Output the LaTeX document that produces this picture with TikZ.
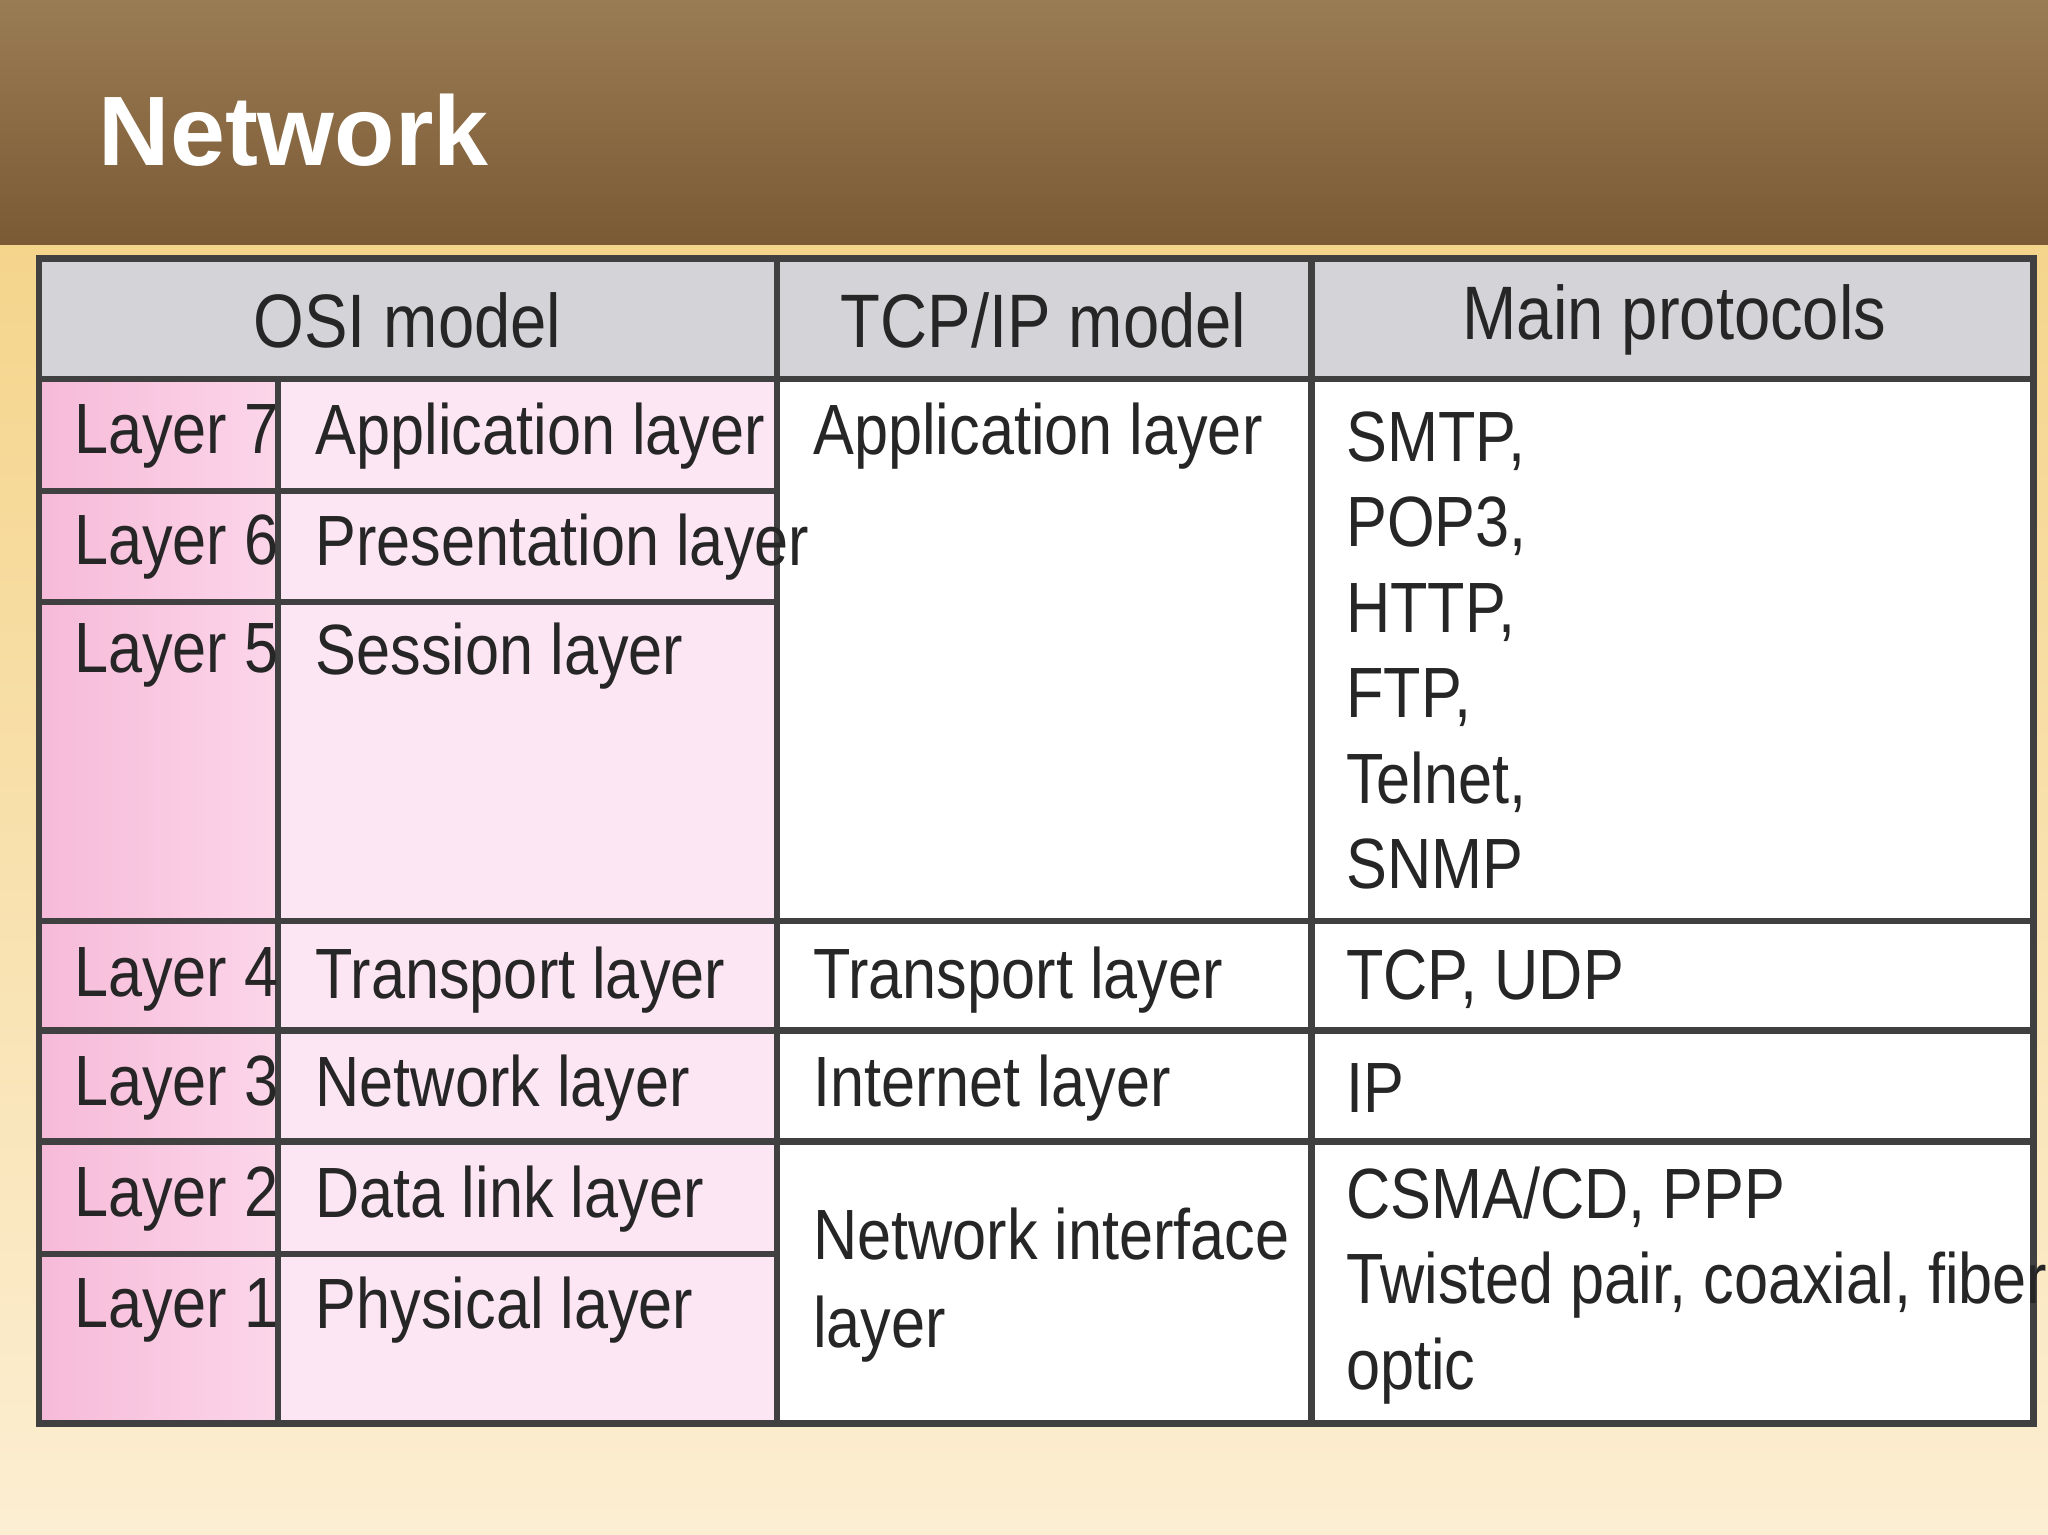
\documentclass[tikz,border=0pt]{standalone}
\usepackage{fontspec}
\setmainfont[FakeStretch=0.86]{Liberation Sans}
\newfontfamily\titlefont{Liberation Sans}
\definecolor{hdgray}{RGB}{212,212,216}
\definecolor{pinkA}{RGB}{246,186,216}
\definecolor{pinkB}{RGB}{252,214,234}
\definecolor{pinkC}{RGB}{253,230,243}
\definecolor{brownA}{RGB}{154,124,84}
\definecolor{brownB}{RGB}{122,90,53}
\definecolor{bgA}{RGB}{245,213,140}
\definecolor{bgB}{RGB}{252,238,210}
\begin{document}
\begin{tikzpicture}[x=0.01cm,y=-0.01cm,
  cell/.style={anchor=west,inner sep=0pt,font=\fontsize{15.5}{19}\selectfont,text=black!85},
  hd/.style={anchor=center,inner sep=0pt,font=\fontsize{16.5}{20}\selectfont,text=black!85},
  grid/.style={draw=black!75,line width=1.4pt}]
\useasboundingbox (0,0) rectangle (1568,1175);
\shade[top color=bgA,bottom color=bgB] (0,187) rectangle (1568,1175);
\shade[top color=brownA,bottom color=brownB] (0,0) rectangle (1568,187);
\node[anchor=west,inner sep=0pt,text=white,font=\titlefont\bfseries\fontsize{21.5}{26}\selectfont] (title) at (75,100) {Network};
% fills
\fill[white] (30,198) rectangle (1557,1092);
\fill[hdgray] (30,198) rectangle (1557,290);
\shade[left color=pinkA,right color=pinkB] (30,290) rectangle (213,1090);
\fill[pinkC] (213,290) rectangle (595,1090);
% grid
\draw[grid] (30,198) rectangle (1557,1090);
\draw[grid] (30,290) -- (1557,290);
\draw[grid] (30,376) -- (595,376);
\draw[grid] (30,461) -- (595,461);
\draw[grid] (30,705) -- (1557,705);
\draw[grid] (30,789) -- (1557,789);
\draw[grid] (30,874) -- (1557,874);
\draw[grid] (30,960) -- (595,960);
\draw[grid] (213,290) -- (213,1090);
\draw[grid] (595,198) -- (595,1090);
\draw[grid] (1004,198) -- (1004,1090);
% headers
\node[hd] (h1) at (312,245) {OSI model};
\node[hd] (h2) at (799,245) {TCP/IP model};
\node[hd] (h3) at (1282,245) {Main protocols};
% layers
\node[cell] (l7) at (56,334) {Layer 7};
\node[cell] (l6) at (56,419) {Layer 6};
\node[cell] (l5) at (56,502) {Layer 5};
\node[cell] (l4) at (56,750) {Layer 4};
\node[cell] (l3) at (56,833) {Layer 3};
\node[cell] (l2) at (56,918) {Layer 2};
\node[cell] (l1) at (56,1003) {Layer 1};
\node[cell] (n7) at (241,334) {Application layer};
\node[cell] (n6) at (241,419) {Presentation layer};
\node[cell] (n5) at (241,502) {Session layer};
\node[cell] (n4) at (241,750) {Transport layer};
\node[cell] (n3) at (241,833) {Network layer};
\node[cell] (n2) at (241,918) {Data link layer};
\node[cell] (n1) at (241,1003) {Physical layer};
\node[cell] (t1) at (622,334) {Application layer};
\node[cell] (t2) at (622,750) {Transport layer};
\node[cell] (t3) at (622,833) {Internet layer};
\node[cell,align=left,font=\fontsize{15.5}{19.2}\selectfont] (t4) at (622,984) {Network interface\\layer};
\node[cell,align=left,font=\fontsize{15.5}{18.6}\selectfont] (p1) at (1030,498) {SMTP,\\POP3,\\HTTP,\\FTP,\\Telnet,\\SNMP};
\node[cell] (p2) at (1030,750) {TCP, UDP};
\node[cell] (p3) at (1030,833) {IP};
\node[cell,align=left,font=\fontsize{15.5}{18.6}\selectfont] (p4) at (1030,984) {CSMA/CD, PPP\\Twisted pair, coaxial, fiber\\optic};
\end{tikzpicture}
\end{document}
